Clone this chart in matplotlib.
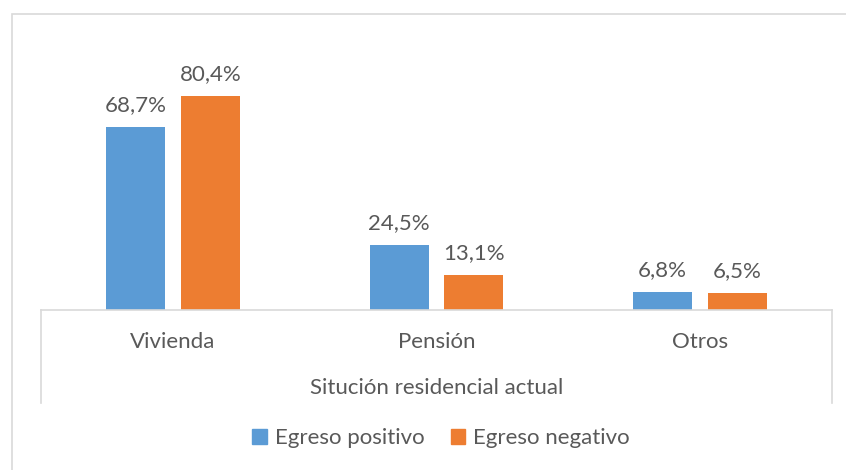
import matplotlib
matplotlib.use("Agg")
import matplotlib.pyplot as plt
from matplotlib.lines import Line2D
from matplotlib.patches import Rectangle, Patch
import numpy as np

categories = ["Vivienda", "Pensión", "Otros"]
series_names = ["Egreso positivo", "Egreso negativo"]
positivo = [68.7, 24.5, 6.8]
negativo = [80.4, 13.1, 6.5]
axis_title = "Situción residencial actual"

colors = ["#5B9BD5", "#ED7D31"]
text_color = "#595959"
plt.rcParams['font.family'] = ['Lato', 'DejaVu Sans']
FS = 16

W, H = 846, 470
fig = plt.figure(figsize=(W/100, H/100), dpi=100)

# outer border (right and bottom edges fall outside the image)
fig.patches.append(Rectangle((12/W, -10/H), (W + 20)/W, (H - 14 + 10)/H,
                             transform=fig.transFigure, fill=False,
                             edgecolor="#d9d9d9", linewidth=1.2))

x0, x1 = 41, 832
ybot, ytop = 310, 44
ax = fig.add_axes([x0/W, 1-ybot/H, (x1-x0)/W, (ybot-ytop)/H])
ax.set_xlim(-0.5, 2.5)
ax.set_ylim(0, 100)
for s in ["top", "left", "right"]:
    ax.spines[s].set_visible(False)
ax.spines["bottom"].set_color("#d9d9d9")
ax.spines["bottom"].set_linewidth(1.2)
ax.set_yticks([])
ax.set_xticks([])

x = np.arange(len(categories))
off = 0.142
w = 0.224
for vals, dx, c in [(positivo, -off, colors[0]), (negativo, off, colors[1])]:
    bars = ax.bar(x + dx, vals, width=w, color=c)
    for b, v in zip(bars, vals):
        ax.text(b.get_x() + b.get_width()/2, v + 6.0, f"{v:.1f}%".replace(".", ","),
                ha="center", va="baseline", fontsize=FS, color=text_color)

# category labels
ylab = -(342 - ybot) / (ybot - ytop)
for xi, cat in zip(x, categories):
    ax.text(xi, ylab, cat, transform=ax.get_xaxis_transform(), ha="center", va="center",
            fontsize=FS, color=text_color)

ax.text(0.5, -(388 - ybot) / (ybot - ytop), axis_title, transform=ax.transAxes,
        ha="center", va="center", fontsize=FS, color=text_color)

# vertical end lines of category axis
for xp in [x0, x1]:
    fig.add_artist(Line2D([xp/W, xp/W], [1-ybot/H, 1-403/H], transform=fig.transFigure,
                          color="#d9d9d9", linewidth=1.2))

handles = [Patch(facecolor=c, edgecolor=c) for c in colors]
leg = fig.legend(handles, series_names, loc="center", bbox_to_anchor=(441/W, 1-438/H),
                 ncol=2, frameon=False, fontsize=FS, handlelength=0.65, handleheight=0.65,
                 handletextpad=0.35, columnspacing=1.2, labelcolor=text_color)

fig.savefig("out.png", dpi=100)
